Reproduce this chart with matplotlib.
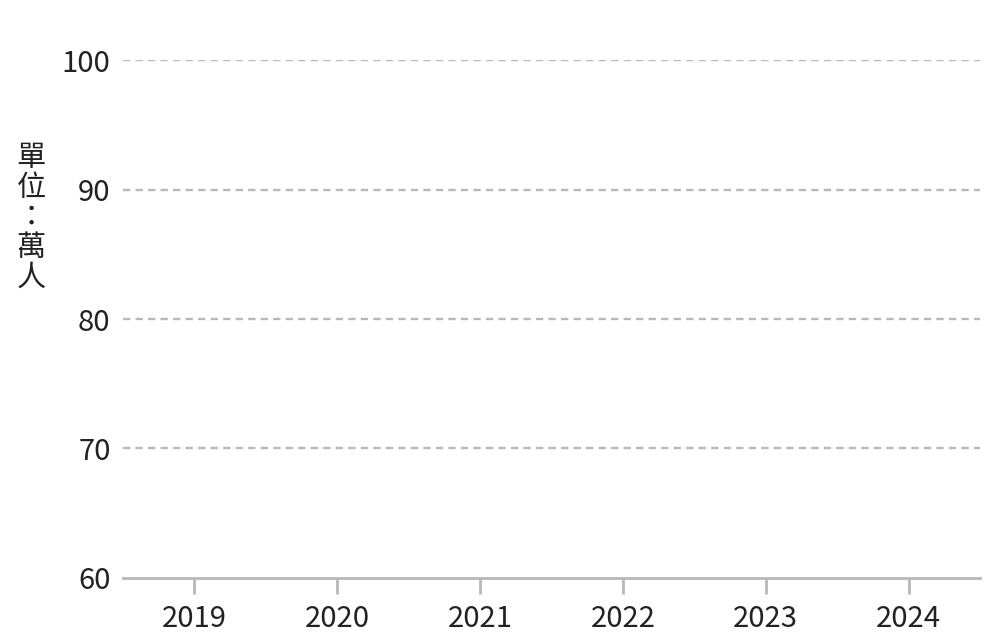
import matplotlib
matplotlib.use("Agg")
import matplotlib.pyplot as plt

plt.rcParams["font.family"] = ["Noto Sans CJK TC", "DejaVu Sans"]

years = [2019, 2020, 2021, 2022, 2023, 2024]
year_labels = [str(y) for y in years]
y_ticks = [60, 70, 80, 90, 100]
y_label = "單\n位\n：\n萬\n人"

TEXT = "#222222"
GRID = "#b8b8b8"

fig = plt.figure(figsize=(10, 6.44), dpi=100)
ax = fig.add_axes([0.123, 0.1025, 0.857, 0.8043])

ax.set_xlim(years[0] - 0.5, years[-1] + 0.5)
ax.set_ylim(y_ticks[0], y_ticks[-1])

ax.set_xticks(years)
ax.set_xticklabels(year_labels)
ax.set_yticks(y_ticks)

for v in y_ticks[1:]:
    ax.axhline(v, color=GRID, linewidth=1.7, linestyle=(0, (3.1, 2.2)), zorder=0)

for side in ["top", "right", "left"]:
    ax.spines[side].set_visible(False)
ax.spines["bottom"].set_color(GRID)
ax.spines["bottom"].set_linewidth(2)

ax.tick_params(axis="x", length=11.5, width=2, color=GRID, pad=7,
               labelsize=21, labelcolor=TEXT)
ax.tick_params(axis="y", length=0, pad=9, labelsize=21, labelcolor=TEXT)
for lbl in ax.get_xticklabels() + ax.get_yticklabels():
    lbl.set_fontweight("medium")

fig.text(0.031, 0.662, y_label, ha="center", va="center", fontsize=21,
         color=TEXT, linespacing=1.0, fontweight="medium")

fig.savefig("out.png", dpi=100)
